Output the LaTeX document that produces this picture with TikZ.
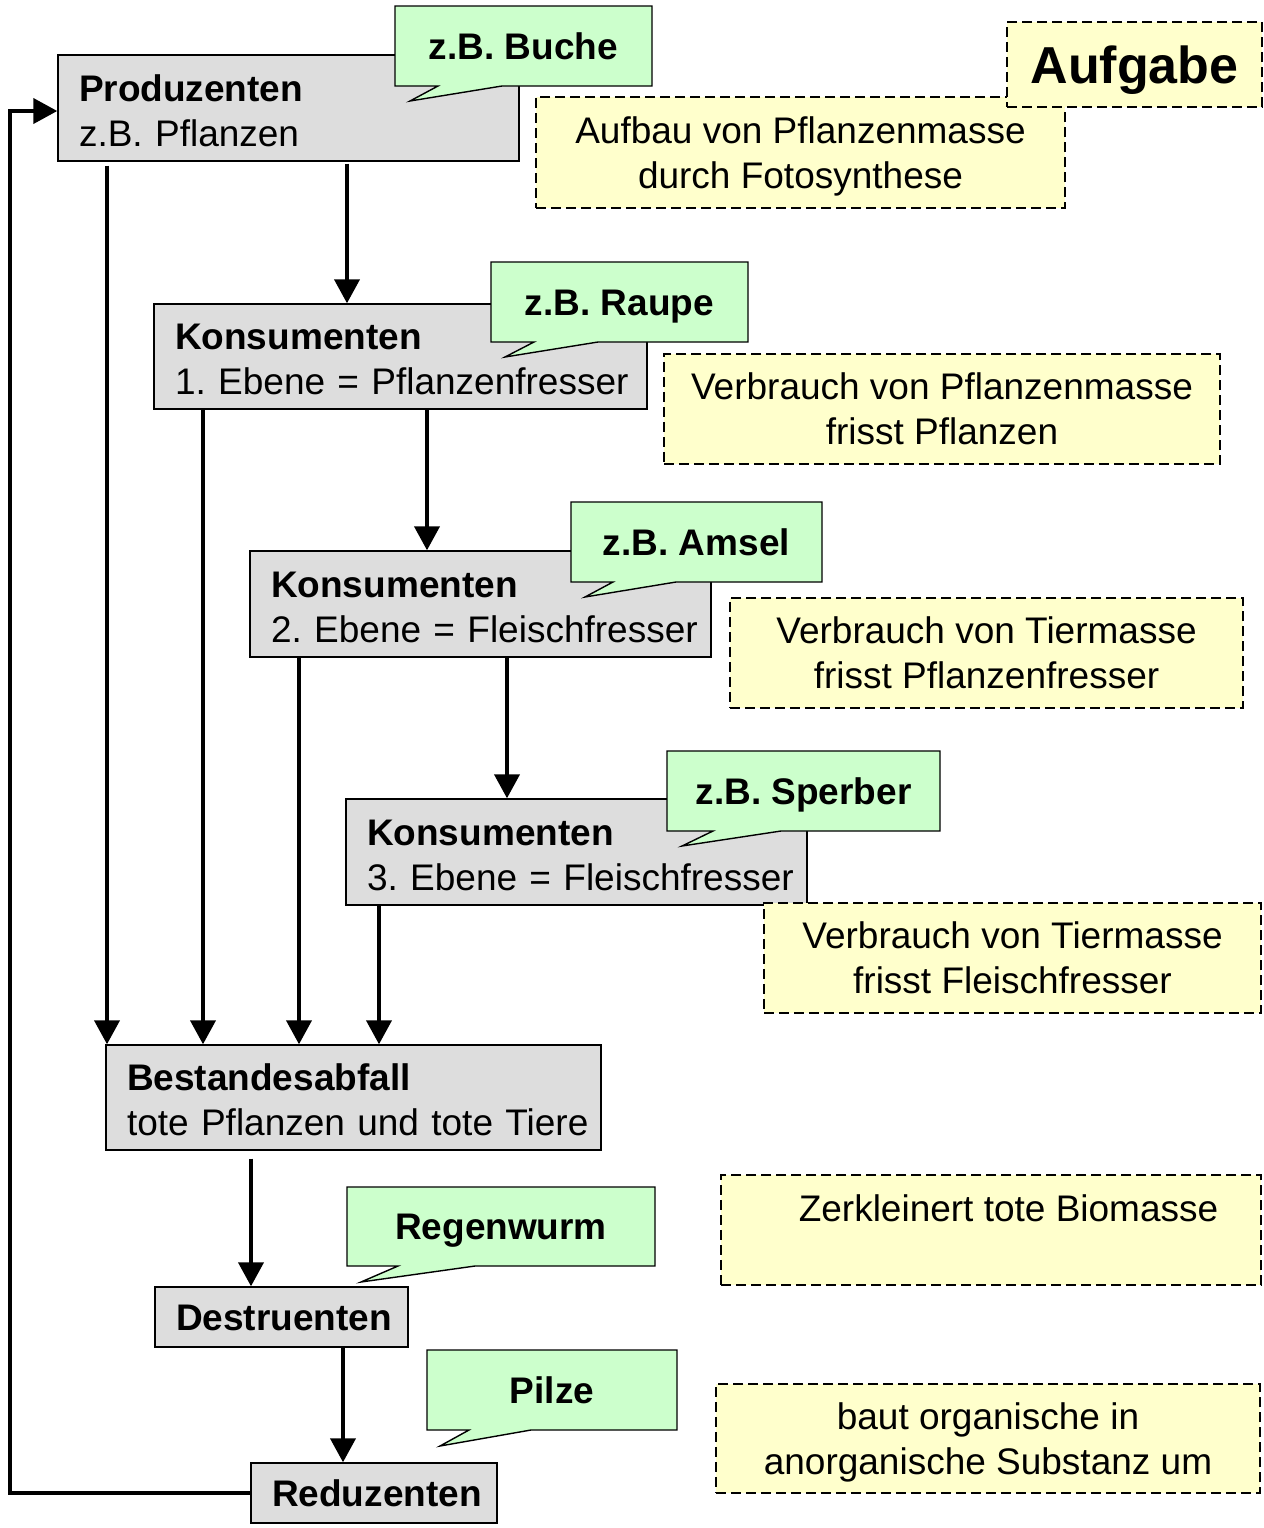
\documentclass[tikz,border=0pt]{standalone}
\usepackage{fontspec}
\setmainfont{Liberation Sans}
\usetikzlibrary{arrows.meta}
\definecolor{boxgray}{HTML}{DDDDDD}
\definecolor{notegreen}{HTML}{CCFFCC}
\definecolor{noteyellow}{HTML}{FFFFCC}
\newcommand{\mainsize}{\fontsize{18.5}{22.5}\selectfont}
\newcommand{\bigsize}{\fontsize{26}{30}\selectfont}

\begin{document}
\frenchspacing
\begin{tikzpicture}[x=0.5pt,y=-0.5pt,
  stage/.style={draw=black, line width=0.7pt, fill=boxgray, inner xsep=10.5pt, inner ysep=0pt,
    align=left, font=\mainsize, text height=13pt, text depth=20pt},
  stagesmall/.style={stage, text depth=0pt, font=\mainsize\bfseries},
  flow/.style={line width=2pt, -{Triangle[length=12pt,width=12.5pt]}},
  note/.style={draw=black, line width=1.3pt, dash pattern=on 5pt off 2.5pt, fill=noteyellow,
    inner sep=0pt, align=center, font=\mainsize, text height=35.75pt, text depth=0pt},
  bubble/.style={draw=black, line width=0.7pt, fill=notegreen, line join=miter},
  bubbletext/.style={font=\mainsize\bfseries, text height=13.25pt, text depth=0pt, inner sep=0pt},
]
\useasboundingbox (0,0) rectangle (1264,1528);

% trophic levels
\node[stage, text width=209.5pt, minimum height=53pt] (prod) at (288.5,108)
  {\mbox{\textbf{Produzenten}}\\\mbox{z.B. Pflanzen}};
\node[stage, text width=225.5pt, minimum height=52.5pt] (k1) at (400.5,356.5)
  {\mbox{\textbf{Konsumenten}}\\\mbox{1. Ebene = Pflanzenfresser}};
\node[stage, text width=209.5pt, minimum height=53pt] (k2) at (480.5,604)
  {\mbox{\textbf{Konsumenten}}\\\mbox{2. Ebene = Fleischfresser}};
\node[stage, text width=209.5pt, minimum height=53pt] (k3) at (576.5,852)
  {\mbox{\textbf{Konsumenten}}\\\mbox{3. Ebene = Fleischfresser}};
\node[stage, text width=226.5pt, minimum height=52.5pt] (waste) at (353.5,1097.5)
  {\mbox{\textbf{Bestandesabfall}}\\\mbox{tote Pflanzen und tote Tiere}};
\node[stagesmall, text width=105.5pt, minimum height=30pt] (destr) at (281.5,1317) {Destruenten};
\node[stagesmall, text width=102pt, minimum height=30pt] (red) at (374,1493) {Reduzenten};

% lanes of the vertical connectors
\coordinate (ln1) at (107,0);
\coordinate (ln2) at (347,0);
\coordinate (ln3) at (203,0);
\coordinate (ln4) at (427,0);
\coordinate (ln5) at (299,0);
\coordinate (ln6) at (507,0);
\coordinate (ln7) at (379,0);
\coordinate (ln8) at (251,0);
\coordinate (ln9) at (343,0);
\coordinate (loop) at (10,111);

\draw[flow, shorten <=1pt] (prod.south -| ln2) -- (k1.north -| ln2);
\draw[flow, shorten <=2pt] (prod.south -| ln1) -- (waste.north -| ln1);
\draw[flow] (k1.south -| ln3) -- (waste.north -| ln3);
\draw[flow] (k1.south -| ln4) -- (k2.north -| ln4);
\draw[flow] (k2.south -| ln5) -- (waste.north -| ln5);
\draw[flow] (k2.south -| ln6) -- (k3.north -| ln6);
\draw[flow] (k3.south -| ln7) -- (waste.north -| ln7);
\draw[flow, shorten <=4pt] (waste.south -| ln8) -- (destr.north -| ln8);
\draw[flow] (destr.south -| ln9) -- (red.north -| ln9);
\draw[flow] (red.west) -| (loop) -- (loop -| prod.west);

% example callouts
\filldraw[bubble] (395,6) -- (652,6) -- (652,86) -- (502,86) -- (410,101) -- (438,86) -- (395,86) -- cycle;
\node[bubbletext] (ex1) at (523.5,46) {z.B. Buche};
\filldraw[bubble] (491,262) -- (748,262) -- (748,342) -- (598,342) -- (505,357) -- (534,342) -- (491,342) -- cycle;
\node[bubbletext] (ex2) at (619.5,302) {z.B. Raupe};
\filldraw[bubble] (571,502) -- (822,502) -- (822,582) -- (676,582) -- (585,597) -- (613,582) -- (571,582) -- cycle;
\node[bubbletext] (ex3) at (696.5,542) {z.B. Amsel};
\filldraw[bubble] (667,751) -- (940,751) -- (940,831) -- (781,831) -- (682,846) -- (713,831) -- (667,831) -- cycle;
\node[bubbletext] (ex4) at (803.5,791) {z.B. Sperber};
\filldraw[bubble] (347,1187) -- (655,1187) -- (655,1266) -- (475,1266) -- (361,1282) -- (398,1266) -- (347,1266) -- cycle;
\node[bubbletext] (ex5) at (501,1226.5) {Regenwurm};
\filldraw[bubble] (427,1350) -- (677,1350) -- (677,1430) -- (531,1430) -- (440,1446) -- (469,1430) -- (427,1430) -- cycle;
\node[bubbletext] (ex6) at (552,1390) {Pilze};

% task notes
\node[note, minimum width=264.5pt, minimum height=55.5pt] (task1) at (800.5,152.5)
  {Aufbau von Pflanzenmasse\\durch Fotosynthese};
\node[note, minimum width=127.5pt, minimum height=42.5pt, font=\bigsize\bfseries,
  text height=18.6pt, text depth=0pt] (task) at (1134.5,64.5) {Aufgabe};
\node[note, minimum width=278pt, minimum height=55pt] (task2) at (942,409)
  {Verbrauch von Pflanzenmasse\\frisst Pflanzen};
\node[note, minimum width=256.5pt, minimum height=55pt] (task3) at (986.5,653)
  {Verbrauch von Tiermasse\\frisst Pflanzenfresser};
\node[note, minimum width=248.5pt, minimum height=55pt] (task4) at (1012.5,958)
  {Verbrauch von Tiermasse\\frisst Fleischfresser};
\node[note, minimum width=270pt, minimum height=55pt] (task5) at (991,1230) {};
\node[font=\mainsize, text height=13.25pt, text depth=0pt, inner sep=0pt] (task5text)
  at (1008.5,1208.5) {Zerkleinert tote Biomasse};
\node[note, minimum width=272pt, minimum height=54.5pt] (task6) at (988,1438.5)
  {baut organische in\\anorganische Substanz um};
\end{tikzpicture}
\end{document}
